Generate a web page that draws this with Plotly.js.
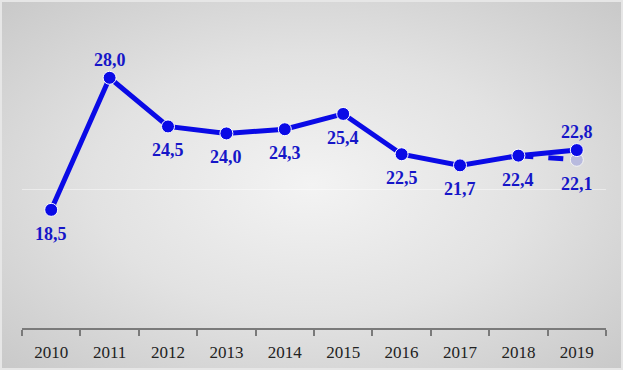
<!DOCTYPE html>
<html>
<head>
<meta charset="utf-8">
<script src="https://cdn.plot.ly/plotly-3.0.1.min.js"></script>
<style>
  html, body { margin: 0; padding: 0; }
  #chart {
    width: 623px; height: 370px;
    background: radial-gradient(ellipse at 50% 50%, #f3f3f3 0%, #e2e2e2 50%, #c9c9c9 100%);
    box-sizing: border-box;
    border: 2px solid #e6e6e6;
  }
</style>
</head>
<body>
<div id="chart"></div>
<script>
const years = ['2010','2011','2012','2013','2014','2015','2016','2017','2018','2019'];
const values = [18.5, 28.0, 24.5, 24.0, 24.3, 25.4, 22.5, 21.7, 22.4, 22.8];
const altValues = [null, null, null, null, null, null, null, null, 22.4, 22.1];
const labelAbove = [false, true, false, false, false, false, false, false, false, true];

const labelFont = {family: '"Liberation Serif", "Times New Roman", serif', size: 18, color: '#1616c8'};
const fmt = v => '<b>' + v.toFixed(1).replace('.', ',') + '</b>';

const traces = [
  {
    x: years, y: altValues, type: 'scatter', mode: 'lines+markers',
    line: {color: '#0a0ae6', width: 5, dash: 'dash'},
    marker: {size: [0,0,0,0,0,0,0,0,0,13], color: '#a9acdf', line: {color: '#ffffff', width: 1}},
    hoverinfo: 'skip', showlegend: false, cliponaxis: false
  },
  {
    x: years, y: values, type: 'scatter', mode: 'lines+markers',
    line: {color: '#0a0ae6', width: 5},
    marker: {size: 13, color: '#0a0ae6', line: {color: '#ffffff', width: 1}},
    showlegend: false, cliponaxis: false
  }
];

const annotations = years.map((yr, i) => ({
  xref: 'x', yref: 'y',
  x: i, y: values[i], text: fmt(values[i]), showarrow: false,
  yshift: labelAbove[i] ? 18 : -24, font: labelFont
}));
const last = altValues.length - 1;
annotations.push({xref: 'x', yref: 'y', x: last, y: altValues[last], text: fmt(altValues[last]),
  showarrow: false, yshift: -24, font: labelFont});

const layout = {
  width: 623, height: 370,
  margin: {l: 20, r: 19, t: 48, b: 44},
  paper_bgcolor: 'rgba(0,0,0,0)',
  plot_bgcolor: 'rgba(0,0,0,0)',
  showlegend: false,
  annotations: annotations,
  xaxis: {
    type: 'category',
    range: [-0.5, 9.5],
    showline: true, linecolor: '#7a7a7a', linewidth: 2,
    ticks: 'outside', tickson: 'boundaries', ticklen: 6, tickcolor: '#7a7a7a', tickwidth: 2,
    showgrid: false,
    tickfont: {family: '"Liberation Serif", "Times New Roman", serif', size: 17, color: '#222222'},
    ticklabelstandoff: 8
  },
  yaxis: {
    range: [10, 30],
    dtick: 10,
    showticklabels: false,
    showgrid: true, gridcolor: 'rgba(255,255,255,0.45)', gridwidth: 1,
    zeroline: false, showline: false
  }
};

Plotly.newPlot('chart', traces, layout, {displayModeBar: false, staticPlot: true});
</script>
</body>
</html>
